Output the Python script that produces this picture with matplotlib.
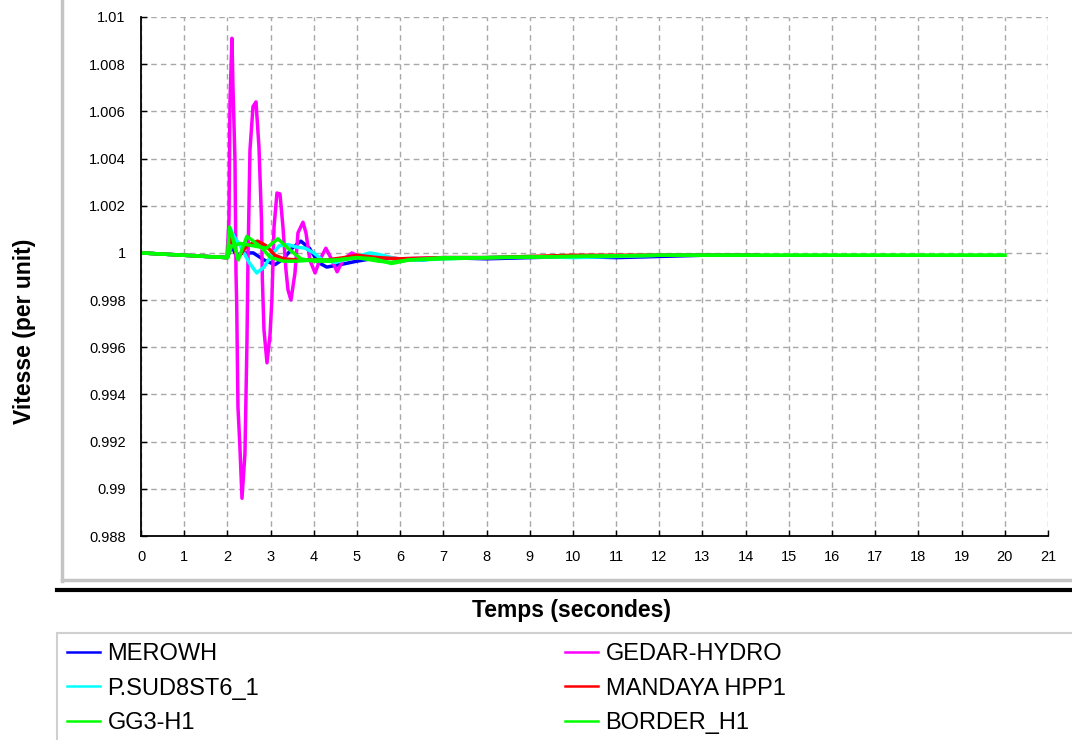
import numpy as np
import matplotlib
matplotlib.use('Agg')
import matplotlib.pyplot as plt
from matplotlib.lines import Line2D
from matplotlib.patches import Rectangle

plt.rcParams['font.family'] = ['Liberation Sans', 'DejaVu Sans']

# valeurs (vitesse en pu)
t_merowh = [0, 2.0, 2.1, 2.2, 2.35, 2.6, 2.85, 3.1, 3.3, 3.5, 3.7, 3.9, 4.1, 4.3, 4.6, 5.0,
            5.5, 6.0, 6.5, 7.0, 8, 9, 10, 11, 12, 13, 14.3]
v_merowh = [1.0, 0.9998, 1.0003, 0.9999, 1.0, 1.0, 0.9997, 0.9995, 0.99975, 1.0002, 1.0005,
            1.0002, 0.9996, 0.9994, 0.9995, 0.99965, 0.9998, 0.99975, 0.9997, 0.9998, 0.99975,
            0.9998, 0.99985, 0.9998, 0.99985, 0.9999, 0.9999]

t_gedar = [0, 1.99, 2.037, 2.06, 2.106, 2.13, 2.176, 2.199, 2.215, 2.245, 2.29, 2.338, 2.407,
           2.454, 2.477, 2.523, 2.593, 2.662, 2.731, 2.79, 2.81, 2.847, 2.917, 2.986, 3.03,
           3.08, 3.148, 3.218, 3.287, 3.356, 3.403, 3.472, 3.565, 3.634, 3.75, 3.82, 3.91,
           4.03, 4.14, 4.28, 4.42, 4.54, 4.68, 4.88, 5.1, 5.5, 6.0, 7, 8, 10, 12, 14.3]
v_gedar = [1.0, 0.9998, 1.0014, 1.0064, 1.0091, 1.0070, 1.0039, 0.9992, 0.9979, 0.99347,
           0.99178, 0.9896, 0.9915, 0.99631, 0.9997, 1.00436, 1.0062, 1.0064, 1.0045, 1.0014,
           0.99886, 0.99674, 0.99534, 0.9965, 0.998, 1.0011, 1.00254, 1.0025, 1.0011,
           0.99928, 0.99843, 0.998, 0.99915, 1.00085, 1.0013, 1.00085, 0.9997, 0.99915,
           0.9997, 1.0002, 0.9997, 0.9992, 0.9997, 1.0, 0.9998, 0.9998, 0.99975, 0.9998,
           0.9998, 0.99985, 0.9999, 0.9999]

t_psud = [0, 2.0, 2.08, 2.15, 2.3, 2.5, 2.68, 2.85, 3.0, 3.2, 3.4, 3.6, 3.8, 4.0, 4.2, 4.5,
          4.7, 5.0, 5.3, 5.6, 6.0, 6.5, 7, 8, 9, 10, 11, 12, 13, 14.3]
v_psud = [1.0, 0.9998, 1.001, 1.0007, 1.0003, 0.9996, 0.99915, 0.9994, 0.99985, 1.0003,
          1.00035, 1.00025, 1.0002, 1.0, 0.9997, 0.9996, 0.9997, 0.99985, 1.0, 0.9999,
          0.9997, 0.9997, 0.99975, 0.9998, 0.99985, 0.9998, 0.99985, 0.9999, 0.9999, 0.9999]

t_mandaya = [0, 2.0, 2.05, 2.12, 2.25, 2.45, 2.7, 2.9, 3.1, 3.3, 3.6, 3.9, 4.3, 4.7, 5.0,
             5.5, 6.0, 7, 8, 9, 10, 12, 14.3]
v_mandaya = [1.0, 0.9998, 1.0007, 1.0004, 0.9998, 1.0003, 1.0005, 1.0003, 0.9999, 0.99975,
             0.9997, 0.9997, 0.9997, 0.9998, 0.9999, 0.9998, 0.99975, 0.9998, 0.9998,
             0.99985, 0.9999, 0.9999, 0.9999]

t_gg3 = [0, 2.0, 2.05, 2.1, 2.25, 2.45, 2.6, 2.8, 3.0, 3.3, 3.6, 4.0, 4.5, 5.0, 5.5, 5.8,
         6.2, 7, 8, 10, 12, 14, 16, 18, 20]
v_gg3 = [1.0, 0.9998, 1.0011, 1.0008, 0.9997, 1.0007, 1.0005, 1.0002, 0.9998, 0.99965,
         0.99965, 0.9997, 0.9997, 0.9998, 0.99965, 0.9996, 0.9997, 0.99975, 0.9998,
         0.99985, 0.9999, 0.9999, 0.9999, 0.9999, 0.9999]

t_border = [0, 2.0, 2.1, 2.3, 2.6, 2.9, 3.17, 3.4, 3.7, 4.0, 4.4, 5.0, 5.4, 5.8, 6.2, 7, 8,
            10, 12, 14, 16, 18, 20]
v_border = [1.0, 0.9998, 1.0003, 1.0004, 1.0003, 1.0002, 1.0006, 1.0002, 0.99975, 0.99965,
            0.99965, 0.9998, 0.99975, 0.99955, 0.9997, 0.9998, 0.9998, 0.99985, 0.9999,
            0.9999, 0.9999, 0.9999, 0.9999]

x_ticks = list(range(0, 22))
y_ticks = [1.01, 1.008, 1.006, 1.004, 1.002, 1.0, 0.998, 0.996, 0.994, 0.992, 0.99, 0.988]
y_labels = ['1.01', '1.008', '1.006', '1.004', '1.002', '1', '0.998', '0.996', '0.994',
            '0.992', '0.99', '0.988']

W, H = 1072, 740
fig = plt.figure(figsize=(W / 100, H / 100), dpi=100)
ax = fig.add_axes([141 / W, 1 - 536 / H, (1048 - 141) / W, (536 - 17) / H])

lw = 2.5
l_mer, = ax.plot(t_merowh, v_merowh, color='#0000ff', lw=lw, label='MEROWH')
l_ged, = ax.plot(t_gedar, v_gedar, color='#ff00ff', lw=lw, label='GEDAR-HYDRO')
l_psu, = ax.plot(t_psud, v_psud, color='#00ffff', lw=lw, label='P.SUD8ST6_1')
l_man, = ax.plot(t_mandaya, v_mandaya, color='#ff0000', lw=lw, label='MANDAYA HPP1')
l_gg3, = ax.plot(t_gg3, v_gg3, color='#00ff00', lw=lw, label='GG3-H1')
l_bor, = ax.plot(t_border, v_border, color='#00ff00', lw=lw, label='BORDER_H1')

ax.set_xlim(0, 21)
ax.set_ylim(0.988, 1.01)
ax.set_xticks(x_ticks)
ax.set_yticks(y_ticks)
ax.set_yticklabels(y_labels)
ax.tick_params(direction='in', length=4, width=1, labelsize=10.5, colors='black')
ax.tick_params(axis='y', pad=11)
ax.tick_params(axis='x', pad=10)
ax.grid(True, color='#a8a8a8', linestyle=(0, (4, 3)), lw=1)
ax.set_axisbelow(True)
for s in ['top', 'right']:
    ax.spines[s].set_visible(False)
for s in ['left', 'bottom']:
    ax.spines[s].set_linewidth(1.3)

# titres des axes
fig.text(25 / W, 1 - 331 / H, 'Vitesse (per unit)', rotation=90, ha='center', va='center',
         fontsize=16.5, fontweight='bold')
fig.text(572 / W, 1 - 611 / H, 'Temps (secondes)', ha='center', va='center',
         fontsize=16.5, fontweight='bold')

# cadres du panneau
fig.add_artist(Line2D([62 / W, 62 / W], [1, 1 - 581 / H], color='#c4c4c4', lw=2.5))
fig.add_artist(Line2D([62 / W, 1], [1 - 580 / H, 1 - 580 / H], color='#c4c4c4', lw=2.5))
fig.add_artist(Line2D([57 / W, 1], [1 - 590 / H, 1 - 590 / H], color='black', lw=3))
fig.add_artist(Rectangle((57 / W, -0.01), 1, (740 - 633) / H + 0.01, fill=False,
                         edgecolor='#d0d0d0', lw=1.5))

leg_kw = dict(loc='upper left', frameon=False, fontsize=17, handlelength=1.38,
              handletextpad=0.34, labelspacing=0.535, borderpad=0, borderaxespad=0)
leg1 = fig.legend([l_mer, l_psu, l_gg3], ['MEROWH', 'P.SUD8ST6_1', 'GG3-H1'],
                  bbox_to_anchor=(67 / W, 1 - 643 / H), **leg_kw)
leg2 = fig.legend([l_ged, l_man, l_bor], ['GEDAR-HYDRO', 'MANDAYA HPP1', 'BORDER_H1'],
                  bbox_to_anchor=(565 / W, 1 - 643 / H), **leg_kw)
for leg in (leg1, leg2):
    for line in leg.get_lines():
        line.set_linewidth(1.8)

fig.savefig('out.png', dpi=100)
